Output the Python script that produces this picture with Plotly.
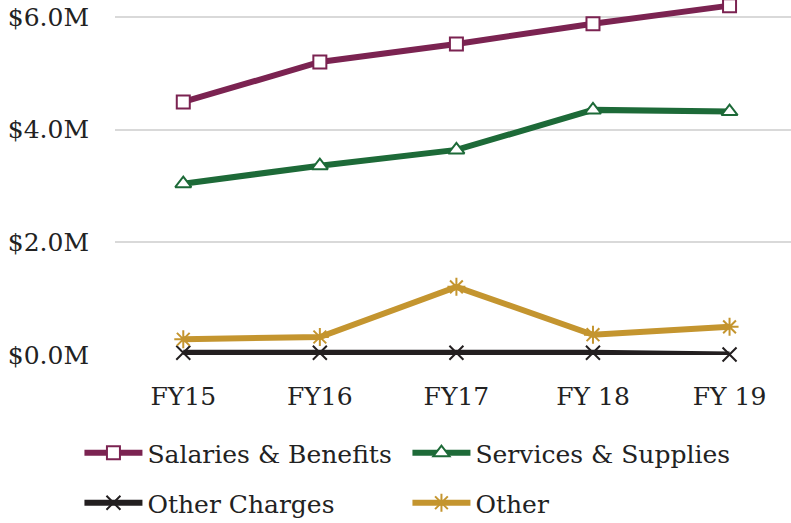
import plotly.graph_objects as go

years = ["FY15", "FY16", "FY17", "FY 18", "FY 19"]
salaries = [4.49, 5.20, 5.52, 5.88, 6.20]
services = [3.04, 3.36, 3.64, 4.35, 4.32]
other_charges = [0.04, 0.04, 0.04, 0.04, 0.01]
other = [0.28, 0.32, 1.21, 0.36, 0.50]
ytick_vals = [0, 2, 4, 6]
ytick_text = ["$0.0M", "$2.0M", "$4.0M", "$6.0M"]

FONT = "DejaVu Serif"
FS = 25
fig = go.Figure()

def add(name, y, color, symbol, fill, legend, msize=12, mlw=2):
    fig.add_trace(go.Scatter(
        x=years, y=y, name=name, mode="lines+markers",
        line=dict(color=color, width=6),
        marker=dict(symbol=symbol, size=msize, color=fill,
                    line=dict(color=color, width=mlw)),
        cliponaxis=False, legend=legend))

add("Salaries & Benefits", salaries, "#7B2351", "square", "white", "legend", msize=13)
add("Services & Supplies", services, "#1D6A38", "triangle-up", "white", "legend2", msize=14)
add("Other Charges", other_charges, "#231F20", "x-thin-open", "#231F20", "legend3", msize=14)
add("Other", other, "#C4952F", "asterisk-open", "#C4952F", "legend4", msize=15)

PLOT_H = 355
PLOT_W = 676
COL1 = -0.0526
COL2 = COL1 + 328 / PLOT_W
ROW1 = (PLOT_H - 453) / PLOT_H
ROW2 = (PLOT_H - 503) / PLOT_H
leg_common = dict(orientation="h", xanchor="left", yanchor="middle",
                  itemwidth=58, font=dict(size=FS), bgcolor="rgba(0,0,0,0)")

fig.update_layout(
    width=791, height=523,
    margin=dict(l=115, r=0, t=0, b=168, autoexpand=False),
    paper_bgcolor="white", plot_bgcolor="white",
    font=dict(family=FONT, size=FS, color="#222222"),
    xaxis=dict(type="category", range=[-0.5, 4.45], showgrid=False,
               showline=False, zeroline=False, ticks="", automargin=False,
               tickfont=dict(size=FS), ticklabelstandoff=24),
    yaxis=dict(range=[0, 6.3], tickvals=ytick_vals, ticktext=ytick_text,
               showgrid=True, gridcolor="#D9D9D9", gridwidth=1.5,
               zeroline=False, showline=False, ticks="", automargin=False,
               tickfont=dict(size=FS), ticklabelstandoff=25),
    legend=dict(leg_common, x=COL1, y=ROW1),
    legend2=dict(leg_common, x=COL2, y=ROW1),
    legend3=dict(leg_common, x=COL1, y=ROW2),
    legend4=dict(leg_common, x=COL2, y=ROW2),
    showlegend=True,
)

fig.write_html("out.html", config={"displayModeBar": False},
               post_script="document.body.style.margin='0';")
